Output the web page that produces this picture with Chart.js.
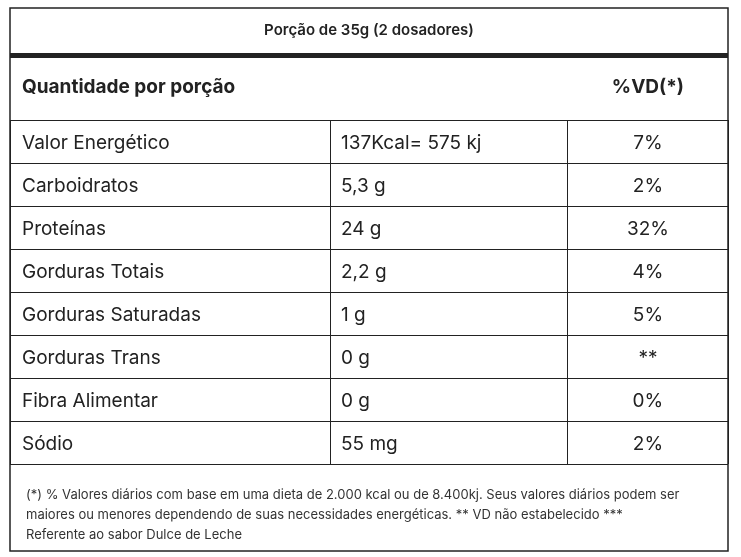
<!DOCTYPE html>
<html>
<head>
<meta charset="utf-8">
<script src="https://cdn.jsdelivr.net/npm/chart.js@4"></script>
<style>
  body { margin: 0; background: #fff; }
  canvas { display: block; }
</style>
</head>
<body>
<canvas id="tabela" width="741" height="557"></canvas>
<script>
const titulo = 'Porção de 35g (2 dosadores)';
const cabecalho = ['Quantidade por porção', '%VD(*)'];
const nutrientes = ['Valor Energético', 'Carboidratos', 'Proteínas', 'Gorduras Totais',
  'Gorduras Saturadas', 'Gorduras Trans', 'Fibra Alimentar', 'Sódio'];
const quantidades = ['137Kcal= 575 kj', '5,3 g', '24 g', '2,2 g', '1 g', '0 g', '0 g', '55 mg'];
const valoresDiarios = ['7%', '2%', '32%', '4%', '5%', '**', '0%', '2%'];
const colunas = [0, 0.447, 0.777, 1];
const rodape = [
  '(*) % Valores diários com base em uma dieta de 2.000 kcal ou de 8.400kj. Seus valores diários podem ser',
  'maiores ou menores dependendo de suas necessidades energéticas. ** VD não estabelecido ***',
  'Referente ao sabor Dulce de Leche'
];

const FONTE = 'Inter, "Open Sans", sans-serif';

const textoTabela = {
  id: 'textoTabela',
  afterDraw(chart) {
    const { ctx, scales: { x, y }, chartArea } = chart;
    const L = chartArea.left, R = chartArea.right;
    ctx.save();
    ctx.fillStyle = '#222';
    ctx.textBaseline = 'middle';

    // moldura externa
    ctx.strokeStyle = '#222';
    ctx.lineWidth = 1.5;
    ctx.strokeRect(L, 8, R - L, 543);
    // linha grossa
    ctx.fillRect(L, 53, R - L, 5);

    ctx.font = '600 15px ' + FONTE;
    ctx.textAlign = 'center';
    ctx.fillText(titulo, (L + R) / 2, 30);

    ctx.font = 'bold 19px ' + FONTE;
    ctx.textAlign = 'left';
    ctx.fillText(cabecalho[0], L + 12, 87);
    ctx.textAlign = 'center';
    ctx.fillText(cabecalho[1], (x.getPixelForValue(colunas[2]) + R) / 2, 87);

    ctx.font = '19px ' + FONTE;
    nutrientes.forEach((nome, i) => {
      const py = y.getPixelForValue(i + 0.5) + 2;
      ctx.textAlign = 'left';
      ctx.fillText(nome, x.getPixelForValue(colunas[0]) + 12, py);
      ctx.fillText(quantidades[i], x.getPixelForValue(colunas[1]) + 10, py);
      ctx.textAlign = 'center';
      ctx.fillText(valoresDiarios[i], (x.getPixelForValue(colunas[2]) + x.getPixelForValue(colunas[3])) / 2, py);
    });

    ctx.font = '13px ' + FONTE;
    ctx.fillStyle = '#333';
    ctx.textAlign = 'left';
    rodape.forEach((linha, i) => ctx.fillText(linha, L + 16, 495 + i * 20));
    ctx.restore();
  }
};

new Chart(document.getElementById('tabela'), {
  type: 'scatter',
  data: { datasets: [{ data: [] }] },
  options: {
    responsive: false,
    animation: false,
    layout: { padding: { left: 10, right: 13, top: 120, bottom: 93 } },
    plugins: { legend: { display: false }, tooltip: { enabled: false } },
    scales: {
      x: {
        type: 'linear', min: 0, max: 1,
        afterBuildTicks: s => { s.ticks = colunas.map(v => ({ value: v })); },
        ticks: { display: false },
        grid: { color: '#222', lineWidth: 1, drawTicks: false },
        border: { display: false }
      },
      y: {
        type: 'linear', min: 0, max: nutrientes.length, reverse: true,
        afterBuildTicks: s => { s.ticks = nutrientes.concat(['']).map((_, i) => ({ value: i })); },
        ticks: { display: false },
        grid: { color: '#222', lineWidth: 1, drawTicks: false },
        border: { display: false }
      }
    }
  },
  plugins: [textoTabela]
});
</script>
</body>
</html>
